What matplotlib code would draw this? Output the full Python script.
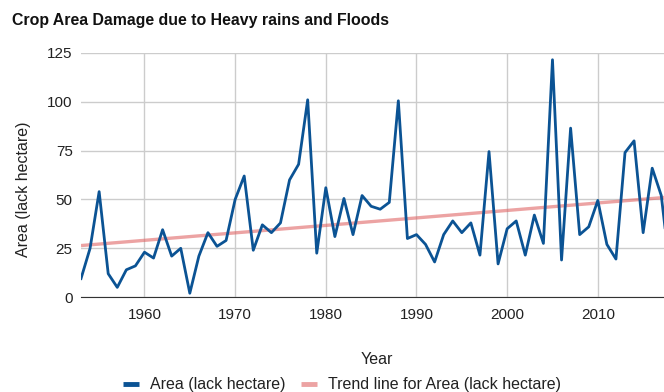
import numpy as np
import matplotlib.pyplot as plt
from matplotlib.lines import Line2D

plt.rcParams['font.family'] = ['Liberation Sans', 'DejaVu Sans']

years = list(range(1953, 2019))
area = [9.5, 25, 54, 12, 5, 14, 16, 23, 20, 34.5, 21, 25, 2, 21, 33, 26, 29, 50,
        62, 24, 37, 33, 38, 60, 68, 101, 22.5, 56, 31, 50.5, 32, 52, 46.5, 45,
        48.5, 100.5, 30, 32, 27, 18, 32, 39, 33, 38, 21.5, 74.5, 17, 35, 39, 21.5,
        42, 27.5, 121.5, 19, 86.5, 32, 36, 49.5, 27, 19.5, 74, 80, 33, 66, 52, 12]

x = np.array(years)
y = np.array(area)
coef = np.polyfit(x, y, 1)
trend = np.polyval(coef, x)

fig = plt.figure(figsize=(6.64, 3.92), dpi=100)
ax = fig.add_axes([0.122, 0.242, 0.878, 0.623])

ax.plot(x, trend, color='#e06666', alpha=0.6, linewidth=2.4, solid_capstyle='butt')
ax.plot(x, y, color='#0b5394', linewidth=2.0, zorder=3)

ax.set_xlim(1953, 2017.3)
ax.set_ylim(0, 125)
ax.set_yticks([0, 25, 50, 75, 100, 125])
ax.set_xticks([1960, 1970, 1980, 1990, 2000, 2010])
ax.grid(True, color='#cccccc', linewidth=1)
ax.set_axisbelow(True)
for s in ['top', 'right', 'left']:
    ax.spines[s].set_visible(False)
ax.spines['bottom'].set_color('#333333')
ax.tick_params(length=0, labelsize=11, colors='#222222')
ax.tick_params(axis='x', pad=8)
ax.tick_params(axis='y', pad=6)

ax.set_xlabel('Year', fontsize=11.5, color='#222222')
ax.set_ylabel('Area (lack hectare)', fontsize=11.5, color='#222222')
ax.xaxis.set_label_coords(0.508, -0.254)
ax.yaxis.set_label_coords(-0.098, 0.443)
ax.xaxis.label.set_va('center')
ax.yaxis.label.set_va('center')

fig.text(0.018, 0.935, 'Crop Area Damage due to Heavy rains and Floods',
         fontsize=11.4, fontweight='bold', color='#111111')

# legend swatches drawn as thick short bars
h1 = Line2D([], [], color='#0b5394', linewidth=3.5, solid_capstyle='butt')
h2 = Line2D([], [], color='#e06666', alpha=0.6, linewidth=3.5, solid_capstyle='butt')
fig.legend([h1, h2],
           ['Area (lack hectare)', 'Trend line for Area (lack hectare)'],
           loc='center', bbox_to_anchor=(0.515, 0.02), ncol=2, frameon=False,
           fontsize=11.5, handlelength=1.0, handleheight=0.5, columnspacing=1.0,
           handletextpad=0.65, labelcolor='#222222')

fig.savefig('out.png', dpi=100, facecolor='w')
